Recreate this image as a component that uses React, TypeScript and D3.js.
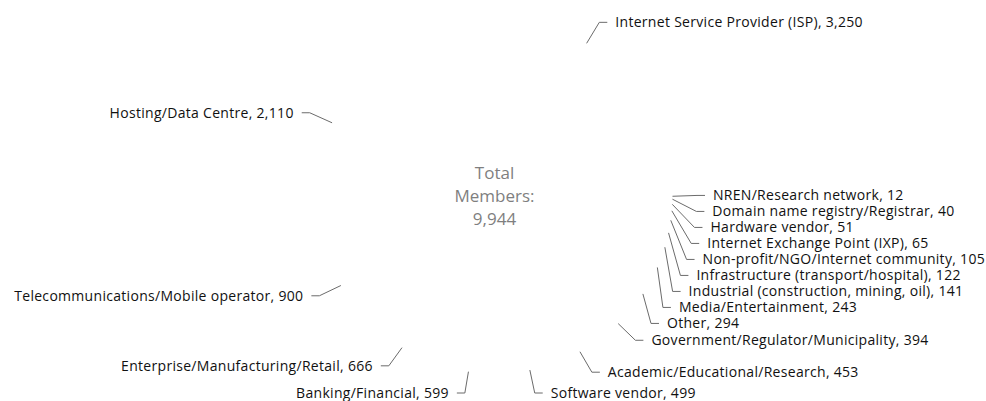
import * as d3 from 'd3';
import React, { useEffect, useRef } from 'react';

const categories = [
    "Internet Service Provider (ISP)",
    "Hosting/Data Centre",
    "Telecommunications/Mobile operator",
    "Enterprise/Manufacturing/Retail",
    "Banking/Financial",
    "Software vendor",
    "Academic/Educational/Research",
    "Government/Regulator/Municipality",
    "Other",
    "Media/Entertainment",
    "Industrial (construction, mining, oil)",
    "Infrastructure (transport/hospital)",
    "Non-profit/NGO/Internet community",
    "Internet Exchange Point (IXP)",
    "Hardware vendor",
    "Domain name registry/Registrar",
    "NREN/Research network"
];
const members = [3250, 2110, 900, 666, 599, 499, 453, 394, 294, 243, 141, 122, 105, 65, 51, 40, 12];
const centerLines = ["Total", "Members:"];

const WIDTH = 986;
const HEIGHT = 401;

// push overlapping labels down, then squeeze back inside [minB, maxB]
function shiftLayout(list, h, minB, maxB) {
    if (list.length < 2) return false;
    list.sort((a, b) => a.y - b.y);
    const n = list.length;
    let adjusted = false;
    let lastPos = 0;
    list.forEach(l => {
        const delta = (l.y - h / 2) - lastPos;
        if (delta < 0) {
            l.y -= delta;
            adjusted = true;
        }
        lastPos = l.y + h / 2;
    });

    const shiftList = (delta, start, end) => {
        if (delta !== 0) adjusted = true;
        for (let i = start; i < end; i++) list[i].y += delta;
    };
    const squeezeGaps = (delta, maxPct) => {
        const gaps = [];
        let totalGaps = 0;
        for (let i = 1; i < n; i++) {
            const gap = Math.max(list[i].y - list[i - 1].y - h, 0);
            gaps.push(gap);
            totalGaps += gap;
        }
        if (!totalGaps) return;
        const pct = Math.min(Math.abs(delta) / totalGaps, maxPct);
        if (delta > 0) {
            for (let i = 0; i < n - 1; i++) shiftList(gaps[i] * pct, 0, i + 1);
        } else {
            for (let i = n - 1; i > 0; i--) shiftList(-gaps[i - 1] * pct, i, n);
        }
    };
    let minGap = 0, maxGap = 0;
    const updateGaps = () => {
        minGap = list[0].y - h / 2 - minB;
        maxGap = maxB - list[n - 1].y - h / 2;
    };
    const takeBoundsGap = (gapThis, gapOther, dir) => {
        if (gapThis < 0) {
            const move = Math.min(gapOther, -gapThis);
            if (move > 0) {
                shiftList(move * dir, 0, n);
                const remained = move + gapThis;
                if (remained < 0) squeezeGaps(-remained * dir, 1);
            } else {
                squeezeGaps(-gapThis * dir, 1);
            }
        }
    };
    updateGaps();
    if (minGap < 0) squeezeGaps(-minGap, 0.8);
    if (maxGap < 0) squeezeGaps(maxGap, 0.8);
    updateGaps();
    takeBoundsGap(minGap, maxGap, 1);
    takeBoundsGap(maxGap, minGap, -1);
    return adjusted;
}

const MemberPie = () => {
    const svgRef = useRef(null);

    useEffect(() => {
        const svg = d3.select(svgRef.current);
        svg.selectAll("*").remove();

        const cx = 494.5, cy = 195.6;
        const radius = 178;
        const labelRadius = 202.5;
        const lineHeight = 16;
        const fmt = d3.format(",");

        const data = categories.map((name, i) => ({ name, value: members[i] }));
        const total = d3.sum(members);

        // smallest slice starts at 3 o'clock, slices grow clockwise
        const pie = d3.pie()
            .value(d => d.value)
            .sort((a, b) => a.value - b.value)
            .startAngle(Math.PI / 2)
            .endAngle(Math.PI / 2 + 2 * Math.PI);
        const arcs = pie(data);

        const g = svg.append("g");

        // the slices are white on white in the original, only labels show
        const arc = d3.arc().innerRadius(0).outerRadius(radius);
        g.selectAll("path.slice")
            .data(arcs)
            .enter().append("path")
            .attr("class", "slice")
            .attr("transform", `translate(${cx},${cy})`)
            .attr("d", arc)
            .attr("fill", "#ffffff");

        const labels = arcs.map(a => {
            const mid = (a.startAngle + a.endAngle) / 2;
            const s = Math.sin(mid), c = -Math.cos(mid);
            return {
                a,
                right: s >= 0,
                ex: cx + s * radius,
                ey: cy + c * radius,
                x: cx + s * labelRadius,
                y: cy + c * labelRadius
            };
        });

        [true, false].forEach(side => {
            const list = labels.filter(l => l.right === side);
            if (!shiftLayout(list, lineHeight, 0, HEIGHT)) return;
            // put x back on an ellipse fitted through the outermost label of each half
            [list.filter(l => l.y <= cy), list.filter(l => l.y > cy)].forEach(semi => {
                let maxY = -1, rB = labelRadius;
                semi.forEach(l => {
                    const dy = Math.abs(l.y - cy);
                    if (dy >= maxY) {
                        const dx = l.x - cx;
                        rB = Math.abs(dx) < labelRadius
                            ? Math.sqrt(dy * dy / (1 - (dx * dx) / (labelRadius * labelRadius)))
                            : labelRadius;
                        maxY = dy;
                    }
                });
                semi.forEach(l => {
                    const dy = Math.abs(l.y - cy);
                    const dx = Math.sqrt(Math.max(0, 1 - (dy * dy) / (rB * rB))) * labelRadius;
                    l.x = cx + (side ? dx : -dx);
                });
            });
        });

        g.selectAll("path.connector")
            .data(labels)
            .enter().append("path")
            .attr("class", "connector")
            .attr("d", l => {
                const dir = l.right ? 1 : -1;
                return `M${l.ex},${l.ey}L${l.x},${l.y}L${l.x + dir * 8},${l.y}`;
            })
            .attr("fill", "none")
            .attr("stroke", "#6b6b6b")
            .attr("stroke-width", 1);

        g.selectAll("text.label")
            .data(labels)
            .enter().append("text")
            .attr("class", "label")
            .attr("x", l => l.x + (l.right ? 16 : -16))
            .attr("y", l => l.y)
            .attr("dy", "0.35em")
            .attr("text-anchor", l => l.right ? "start" : "end")
            .style("font-family", "'Open Sans', sans-serif")
            .style("font-size", "14px")
            .style("letter-spacing", "0.3px")
            .style("fill", "#111")
            .text(l => `${l.a.data.name}, ${fmt(l.a.data.value)}`);

        const centre = g.append("text")
            .attr("x", cx)
            .attr("y", cy - 23)
            .attr("text-anchor", "middle")
            .style("font-family", "'Open Sans', sans-serif")
            .style("font-size", "17px")
            .style("fill", "#7f7f7f");
        centerLines.concat([fmt(total)]).forEach((line, i) => {
            centre.append("tspan")
                .attr("x", cx)
                .attr("dy", i === 0 ? "0.35em" : "23px")
                .text(line);
        });
    }, []);

    return (
        <svg
            ref={svgRef}
            width={WIDTH}
            height={HEIGHT}
            style={{ position: "absolute", left: 0, top: 0, overflow: "hidden", background: "#fff" }}
        />
    );
};

export default function App() {
    return <MemberPie />;
}
